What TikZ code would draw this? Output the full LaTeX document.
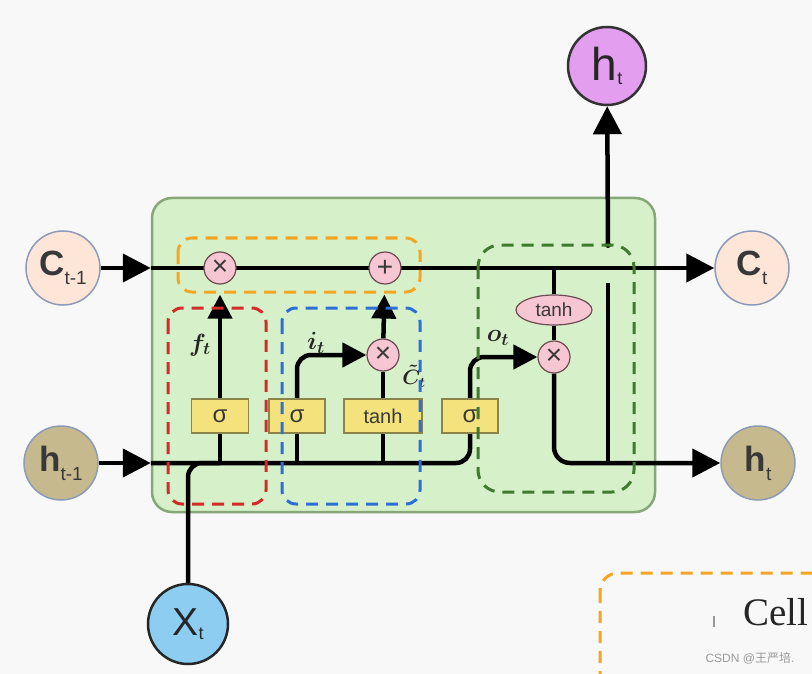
\documentclass[tikz,border=0pt]{standalone}
\usepackage{fontspec}
\setmainfont{Liberation Sans}
\newfontfamily\cjkfont{Noto Sans CJK SC}
\newfontfamily\timesfont{Liberation Serif}
\usetikzlibrary{arrows.meta,shapes.geometric}
\definecolor{bgc}{HTML}{F8F8F8}
\definecolor{boxfill}{HTML}{D6F1C9}
\definecolor{boxline}{HTML}{86A878}
\definecolor{peach}{HTML}{FDE6D8}
\definecolor{tan}{HTML}{C7B98E}
\definecolor{skyb}{HTML}{8DCDF2}
\definecolor{violet}{HTML}{E39EF0}
\definecolor{ringb}{HTML}{8C9BB8}
\definecolor{gatey}{HTML}{F4E27C}
\definecolor{gateb}{HTML}{8A8448}
\definecolor{oppink}{HTML}{F6C6D2}
\definecolor{opb}{HTML}{6E4A52}
\definecolor{txt}{HTML}{383838}
\definecolor{dorange}{HTML}{F5A524}
\definecolor{dred}{HTML}{D42A2A}
\definecolor{dblue}{HTML}{2E6FD6}
\definecolor{dgreen}{HTML}{3F7A2E}
\pgfdeclarelayer{back}
\pgfdeclarelayer{wires}
\pgfdeclarelayer{front}
\pgfsetlayers{back,wires,main,front}
\tikzset{
  wire/.style={line width=4.5pt, draw=black},
  warr/.style={wire, -{Triangle[length=24pt,width=24pt]}},
  bigarr/.style={wire, -{Triangle[length=28pt,width=28pt]}},
  gate/.style={draw=gateb, fill=gatey, line width=1.2pt, minimum height=34pt, inner sep=0pt, font=\fontsize{24}{24}\selectfont, text=txt},
  op/.style={circle, draw=opb, fill=oppink, line width=1.2pt, minimum size=32pt, inner sep=0pt, font=\fontsize{28}{28}\selectfont, text=txt},
  io/.style={circle, minimum size=74pt, inner sep=0pt, line width=1.5pt, draw=ringb, text=txt},
  dbox/.style={dash pattern=on 12pt off 8pt, line width=3pt, rounded corners=14pt},
  lbl/.style={font=\fontsize{24}{24}\selectfont\boldmath, inner sep=0pt, text=black!85},
}
\begin{document}
\begin{tikzpicture}[x=1pt,y=-1pt]
\useasboundingbox (0,0) rectangle (812,674);
\begin{pgfonlayer}{back}
\fill[bgc] (0,0) rectangle (812,674);
% main cell box
\node[draw=boxline, fill=boxfill, line width=2.5pt, rounded corners=20pt, minimum width=503pt, minimum height=314pt] (box) at (403.5,355) {};
\end{pgfonlayer}
% inputs / outputs
\node[io, fill=peach] (c0) at (63,268) {{\fontsize{35}{35}\selectfont\bfseries C}\raisebox{-9pt}{\fontsize{19}{19}\selectfont t-1}};
\node[io, fill=tan] (h0) at (61,463) {{\fontsize{35}{35}\selectfont\bfseries h}\raisebox{-9pt}{\fontsize{19}{19}\selectfont t-1}};
\node[io, fill=peach] (ct) at (752,268) {{\fontsize{35}{35}\selectfont\bfseries C}\raisebox{-9pt}{\fontsize{19}{19}\selectfont t}};
\node[io, fill=tan] (ht) at (758,463) {{\fontsize{35}{35}\selectfont\bfseries h}\raisebox{-9pt}{\fontsize{19}{19}\selectfont t}};
\node[io, fill=skyb, draw=black!85, line width=2.5pt, minimum size=80pt, text=black!85] (xt) at (188,624) {{\fontsize{39}{39}\selectfont X}\raisebox{-4pt}{\fontsize{18}{18}\selectfont t}};
\node[io, fill=violet, draw=black!80, line width=2.5pt, minimum size=78pt, text=black!85] (htop) at (607,66) {{\fontsize{46}{46}\selectfont h}\raisebox{-4pt}{\fontsize{18}{18}\selectfont t}};
% gates
\node[gate, minimum width=57pt] (s1) at (220,416) {σ};
\node[gate, minimum width=56pt] (s2) at (297,416) {σ};
\node[gate, minimum width=78pt, font=\fontsize{20}{20}\selectfont] (th) at (383,416) {tanh};
\node[gate, minimum width=56pt] (s3) at (470,416) {σ};
% pointwise ops
\node[op] (fx) at (220,268) {×};
\node[op] (plus) at (385,268) {+};
\node[op] (ix) at (383,355) {×};
\node[op] (ox) at (554,357) {×};
\node[ellipse, draw=opb, fill=oppink, line width=1.2pt, minimum width=76pt, minimum height=30pt, inner sep=0pt, font=\fontsize{19}{19}\selectfont, text=txt] (tho) at (554,310) {tanh};
\coordinate (vb) at (608,283);
\coordinate (vt) at (608,245);
\coordinate (xjoin) at (188,463);
% wires
\begin{pgfonlayer}{wires}
\draw[bigarr] (c0) -- (c0 -| box.west);
\draw[bigarr] (c0 -| box.west) -- (ct);
\draw[bigarr] (h0) -- (h0 -| box.west);
\draw[wire, rounded corners=14pt] (h0 -| box.west) -- (s3.south |- h0) -- (s3.south);
\draw[wire, rounded corners=14pt] (xt) -- (xjoin) -- (s1 |- h0);
\draw[wire] (s1.south) -- (s1 |- h0);
\draw[wire] (s2.south) -- (s2 |- h0);
\draw[wire] (th.south) -- (th |- h0);
\draw[warr, shorten >=10pt] (s1) -- (fx);
\draw[warr, shorten >=10pt] (ix) -- (plus);
\draw[wire] (th) -- (ix);
\draw[warr, rounded corners=14pt] (s2.north) |- (ix);
\draw[warr, rounded corners=14pt] (s3.north) |- (ox);
\draw[wire] (tho |- c0) -- (tho);
\draw[wire] (tho) -- (ox);
\draw[bigarr, rounded corners=16pt] (ox) |- (ht);
\draw[wire] (vb) -- (vb |- ht);
\draw[bigarr] (vt) -- (htop);
\fill (vt) circle (3pt);
\end{pgfonlayer}
% labels
\node[lbl] (lf) at (200,345) {$f_t$};
\node[lbl] (li) at (316,343) {$i_t$};
\node[lbl, font=\fontsize{22}{22}\selectfont\boldmath] (lc) at (414,376) {$\tilde{C}_t$};
\node[lbl] (lo) at (498,338) {$o_t$};
% dashed groups
\begin{pgfonlayer}{front}
\draw[dbox, draw=dorange] (178,238) rectangle (420,292);
\draw[dbox, draw=dred] (168,308) rectangle (266,504);
\draw[dbox, draw=dblue] (282,308) rectangle (420,504);
\draw[dbox, draw=dgreen, rounded corners=22pt] (478,245) rectangle (634,492);
\draw[dbox, draw=dorange, rounded corners=18pt] (600,573) rectangle (840,720);
\end{pgfonlayer}
\node[font=\timesfont\fontsize{39}{39}\selectfont, text=black!85, inner sep=0pt] (cell) at (776,612) {Cell};
\draw[black!40, line width=1.2pt] (714,616) -- (714,627);
\node[font=\fontsize{12}{12}\selectfont, text=black!40, inner sep=0pt] (wm) at (750,658) {CSDN @{\cjkfont 王严培}.};
\end{tikzpicture}
\end{document}
